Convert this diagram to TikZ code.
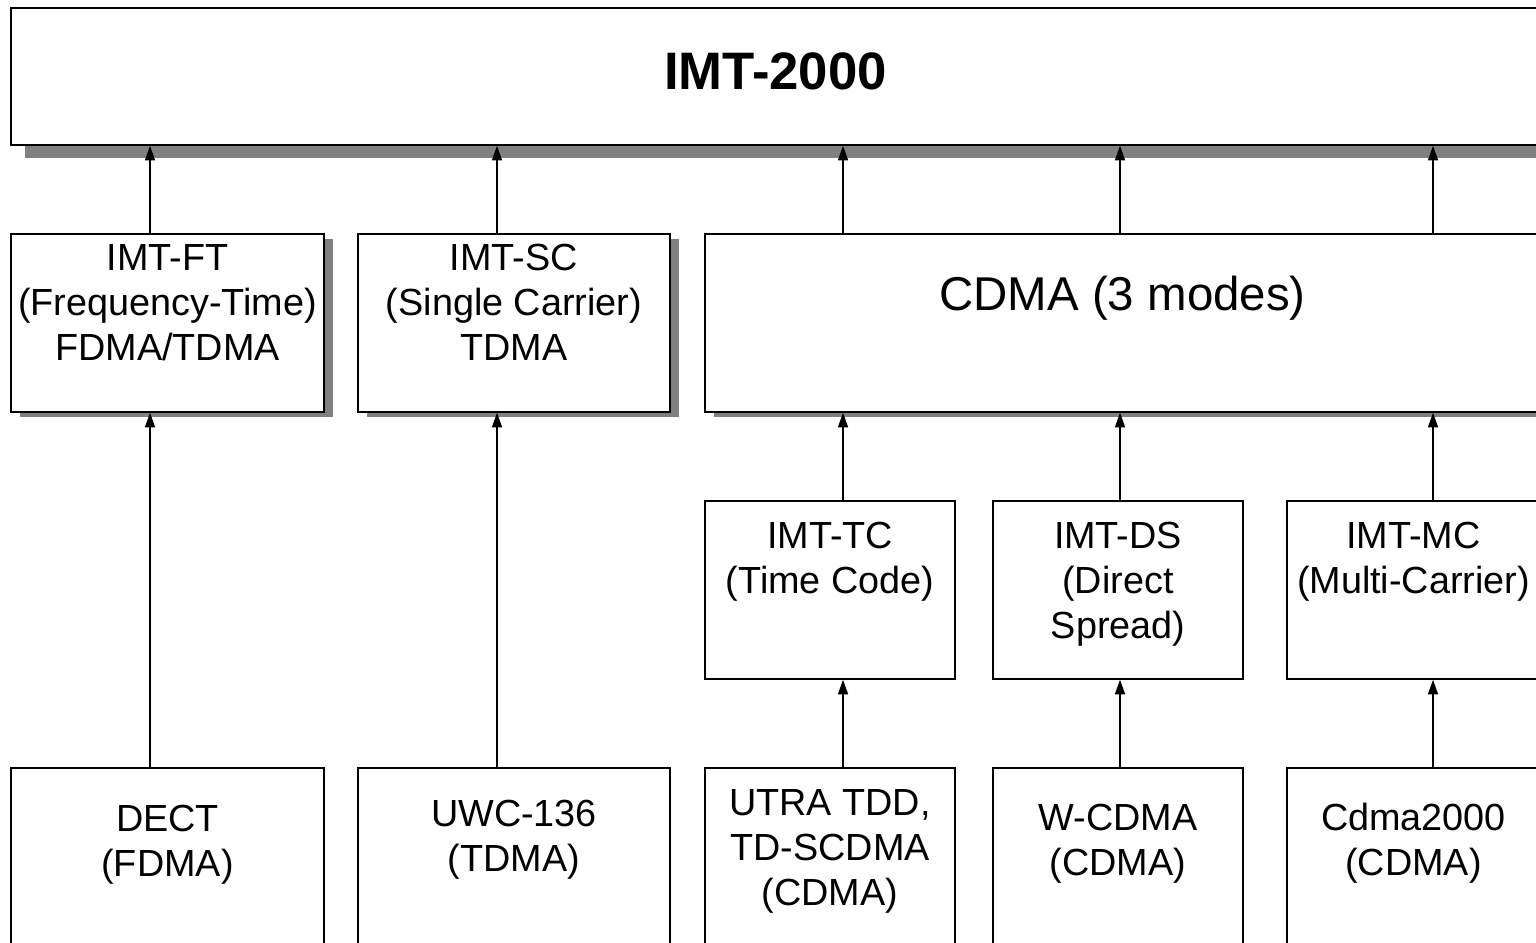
\documentclass[tikz,border=0pt]{standalone}
\usepackage{fontspec}
\setmainfont{Liberation Sans}
\usetikzlibrary{arrows.meta}
\usetikzlibrary{shadows}
\newcommand{\betu}{\fontsize{21.5}{25.6}\selectfont}

\begin{document}
\begin{tikzpicture}[>={Triangle[length=0.29cm,width=0.2cm]},
doboz/.style={ rectangle,draw=black,line width=1pt,fill=white,inner sep=0pt,anchor=north,font=\betu
},
arnyekos/.style={drop shadow={shadow xshift=0.17cm,shadow yshift=-0.1cm,fill=black!50,opacity=1}}]

\useasboundingbox (0,0) rectangle (30.72,-18.84);
\clip (0,0) rectangle (30.72,-18.84);

\pgfmathsetmacro{\masodik}{-4.66}
\pgfmathsetmacro{\harmadik}{-10}
\pgfmathsetmacro{\negyedik}{-15.34}

\node[doboz,minimum width=30.58cm,text height=1.64cm,text depth=1.10cm,font=\fontsize{30}{36}\selectfont\bfseries,
 drop shadow={shadow xshift=0.28cm,shadow yshift=-0.26cm,fill=black!50,opacity=1}](imt) at (15.51,-0.14){IMT-2000};

\node[doboz,arnyekos,minimum width=6.26cm,text height=0.74cm,text depth=2.82cm](ft) at (3.35,\masodik){\begin{tabular}[t]{@{}c@{}}
  IMT-FT\\(Frequency-Time)\\FDMA/TDMA
\end{tabular}};

\node[doboz,arnyekos,minimum width=6.24cm,text height=0.74cm,text depth=2.82cm](sc) at (10.28,\masodik){\begin{tabular}[t]{@{}c@{}}
  IMT-SC\\(Single Carrier)\\TDMA
\end{tabular}};

\node[doboz,arnyekos,minimum width=16.70cm,text height=1.54cm,text depth=2.02cm,font=\fontsize{27}{32}\selectfont](cdma) at (22.45,\masodik){CDMA (3 modes)};

\node[doboz,minimum width=5cm,text height=0.96cm,text depth=2.60cm](tc) at (16.60,\harmadik){\begin{tabular}[t]{@{}c@{}}
  IMT-TC\\(Time Code)
\end{tabular}};

\node[doboz,minimum width=5cm,text height=0.96cm,text depth=2.60cm](ds) at (22.36,\harmadik){\begin{tabular}[t]{@{}c@{}}
  IMT-DS\\(Direct\\Spread)
\end{tabular}};

\node[doboz,minimum width=5.06cm,text height=0.96cm,text depth=2.60cm](mc) at (28.27,\harmadik){\begin{tabular}[t]{@{}c@{}}
  IMT-MC\\(Multi-Carrier)
\end{tabular}};

\node[doboz,minimum width=6.26cm,text height=1.28cm,text depth=3.72cm](dect) at (3.35,\negyedik){\begin{tabular}[t]{@{}c@{}}
  DECT\\(FDMA)
\end{tabular}};

\node[doboz,minimum width=6.24cm,text height=1.18cm,text depth=3.82cm](uwc) at (10.28,\negyedik){\begin{tabular}[t]{@{}c@{}}
  UWC-136\\(TDMA)
\end{tabular}};

\node[doboz,minimum width=5cm,text height=0.96cm,text depth=4.04cm](utra) at (16.60,\negyedik){\begin{tabular}[t]{@{}c@{}}
  UTRA TDD,\\TD-SCDMA\\(CDMA)
\end{tabular}};

\node[doboz,minimum width=5cm,text height=1.26cm,text depth=3.74cm](wcdma) at (22.36,\negyedik){\begin{tabular}[t]{@{}c@{}}
  W-CDMA\\(CDMA)
\end{tabular}};

\node[doboz,minimum width=5.06cm,text height=1.26cm,text depth=3.74cm](cdma2000) at (28.27,\negyedik){\begin{tabular}[t]{@{}c@{}}
  Cdma2000\\(CDMA)
\end{tabular}};

\coordinate (o1) at (3.00,0);
\coordinate (o2) at (9.94,0);
\coordinate (o3) at (16.86,0);
\coordinate (o4) at (22.40,0);
\coordinate (o5) at (28.66,0);

\begin{scope}[->, line width=0.8pt]
\draw (ft.north -| o1)--(imt.south -| o1);
\draw (sc.north -| o2)--(imt.south -| o2);
\draw (cdma.north -| o3)--(imt.south -| o3);
\draw (cdma.north -| o4)--(imt.south -| o4);
\draw (cdma.north -| o5)--(imt.south -| o5);
\draw (tc.north -| o3)--(cdma.south -| o3);
\draw (ds.north -| o4)--(cdma.south -| o4);
\draw (mc.north -| o5)--(cdma.south -| o5);
\draw (dect.north -| o1)--(ft.south -| o1);
\draw (uwc.north -| o2)--(sc.south -| o2);
\draw (utra.north -| o3)--(tc.south -| o3);
\draw (wcdma.north -| o4)--(ds.south -| o4);
\draw (cdma2000.north -| o5)--(mc.south -| o5);
\end{scope}

\end{tikzpicture}
\end{document}
